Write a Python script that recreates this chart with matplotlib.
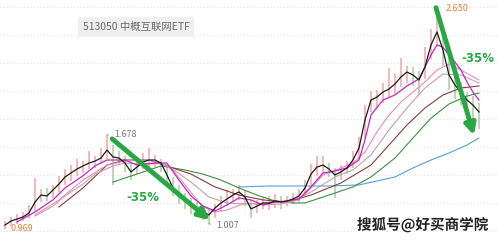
import matplotlib.pyplot as plt
import matplotlib.patheffects as pe
from matplotlib.patches import FancyArrowPatch
import numpy as np

plt.rcParams['font.family'] = ['Noto Sans CJK SC', 'DejaVu Sans']

# daily bars
closes = [0.999, 1.029, 1.044, 1.059, 1.090, 1.172, 1.225, 1.218, 1.263, 1.308,
          1.361, 1.391, 1.421, 1.444, 1.466, 1.481, 1.504, 1.564, 1.512, 1.504,
          1.466, 1.399, 1.436, 1.474, 1.489, 1.489, 1.466, 1.376, 1.278, 1.225,
          1.188, 1.142, 1.120, 1.097, 1.075, 1.127, 1.165, 1.195, 1.225, 1.248,
          1.210, 1.120, 1.142, 1.165, 1.165, 1.180, 1.172, 1.180, 1.195, 1.218,
          1.278, 1.383, 1.436, 1.451, 1.421, 1.376, 1.399, 1.429, 1.489, 1.579,
          1.790, 1.941, 1.964, 2.001, 2.024, 2.062, 2.115, 2.152, 2.130, 2.092,
          2.190, 2.356, 2.454, 2.318, 2.130, 2.054, 2.001, 1.941, 1.903, 1.851]
highs = [1.03, 1.06, 1.08, 1.10, 1.15, 1.35, 1.27, 1.28, 1.30, 1.37,
         1.42, 1.45, 1.50, 1.48, 1.56, 1.52, 1.58, 1.678, 1.60, 1.56,
         1.52, 1.47, 1.48, 1.54, 1.58, 1.53, 1.50, 1.44, 1.36, 1.30,
         1.24, 1.20, 1.17, 1.15, 1.12, 1.16, 1.22, 1.26, 1.27, 1.30,
         1.26, 1.19, 1.19, 1.21, 1.22, 1.23, 1.22, 1.22, 1.24, 1.27,
         1.34, 1.46, 1.52, 1.52, 1.47, 1.43, 1.45, 1.48, 1.56, 1.66,
         1.90, 2.01, 2.02, 2.07, 2.18, 2.14, 2.26, 2.20, 2.19, 2.16,
         2.34, 2.48, 2.650, 2.46, 2.30, 2.15, 2.08, 2.00, 1.97, 1.92]
lows = [0.969, 0.99, 1.01, 1.03, 1.05, 1.10, 1.17, 1.18, 1.20, 1.25,
        1.30, 1.33, 1.37, 1.39, 1.42, 1.43, 1.46, 1.50, 1.30, 1.45,
        1.40, 1.34, 1.38, 1.42, 1.44, 1.44, 1.40, 1.30, 1.22, 1.16,
        1.12, 1.08, 1.06, 1.04, 1.007, 1.05, 1.10, 1.14, 1.17, 1.19,
        1.14, 1.05, 1.09, 1.12, 1.11, 1.13, 1.12, 1.14, 1.16, 1.17,
        1.22, 1.30, 1.37, 1.39, 1.36, 1.20, 1.34, 1.38, 1.43, 1.50,
        1.65, 1.85, 1.88, 1.92, 1.96, 1.99, 2.04, 2.07, 2.05, 1.98,
        2.10, 2.25, 2.35, 2.20, 2.02, 1.95, 1.90, 1.80, 1.76, 1.72]

# moving average lines, read as (bar index, price)
ma10_x = [2, 5, 8, 10, 13, 15, 17, 20, 22, 25, 27, 29, 31, 33, 35, 37, 39, 41, 43, 45,
          47, 49, 51, 53, 55, 57, 59, 60, 61, 63, 65, 67, 69, 71, 72, 73, 74, 75, 76, 77, 78, 79]
ma10_y = [1.022, 1.097, 1.188, 1.278, 1.37, 1.444, 1.489, 1.489, 1.451, 1.466, 1.466, 1.338,
          1.218, 1.142, 1.105, 1.150, 1.203, 1.188, 1.150, 1.172, 1.180, 1.195, 1.286, 1.391,
          1.406, 1.429, 1.489, 1.640, 1.828, 1.941, 1.979, 2.047, 2.10, 2.280, 2.356, 2.34,
          2.280, 2.227, 2.167, 2.077, 2.001, 1.941]
ma20_x = [5, 8, 10, 13, 15, 18, 20, 23, 26, 28, 30, 33, 35, 37, 40, 43, 46, 49, 51, 53,
          56, 58, 60, 62, 64, 66, 68, 70, 72, 74, 76, 79]
ma20_y = [1.067, 1.142, 1.218, 1.308, 1.383, 1.444, 1.466, 1.459, 1.466, 1.414, 1.301, 1.135,
          1.097, 1.112, 1.165, 1.150, 1.157, 1.188, 1.278, 1.376, 1.429, 1.466, 1.549, 1.700,
          1.828, 1.926, 2.001, 2.077, 2.167, 2.212, 2.167, 2.092]
ma30_x = [5, 9, 13, 17, 20, 24, 27, 31, 34, 37, 40, 44, 48, 51, 55, 58, 61, 64, 67, 70, 73, 76, 79]
ma30_y = [1.075, 1.188, 1.338, 1.451, 1.481, 1.489, 1.451, 1.323, 1.210, 1.165, 1.157, 1.165,
          1.180, 1.248, 1.361, 1.414, 1.527, 1.715, 1.881, 2.032, 2.137, 2.130, 2.069]
ma60_x = [9, 13, 17, 20, 24, 27, 31, 35, 39, 43, 47, 51, 56, 61, 64, 67, 70, 73, 76, 79]
ma60_y = [1.135, 1.278, 1.451, 1.489, 1.489, 1.444, 1.383, 1.286, 1.225, 1.188, 1.172, 1.225,
          1.316, 1.451, 1.602, 1.753, 1.881, 1.979, 2.032, 2.047]
ma120_x = [18, 22, 26, 30, 33, 36, 39, 42, 45, 48, 50, 54, 58, 61, 65, 68, 71, 74, 77, 79]
ma120_y = [1.323, 1.383, 1.444, 1.414, 1.383, 1.338, 1.278, 1.225, 1.180, 1.165, 1.165, 1.225,
           1.286, 1.361, 1.504, 1.655, 1.805, 1.911, 1.971, 1.994]
ma250_x = [39, 44, 49, 54, 59, 62, 65, 68, 71, 74, 77, 79]
ma250_y = [1.286, 1.293, 1.293, 1.293, 1.301, 1.331, 1.361, 1.429, 1.489, 1.542, 1.602, 1.655]

grid_levels = [0.954, 1.165, 1.376, 1.587, 1.798, 2.009, 2.220, 2.431, 2.642]

fig = plt.figure(figsize=(4.98, 2.40), dpi=100)
ax = fig.add_axes([0, 0, 1, 1])
ax.set_xlim(-0.83, 82.17)
ax.set_ylim(0.886, 2.695)
ax.axis('off')

for g in grid_levels:
    ax.axhline(g, color='#e2e2e2', lw=0.8, ls=(0, (1, 2)), zorder=0)

idx = np.arange(len(closes))
prev = [closes[0]] + closes[:-1]
cols = ['#f0a6a6' if c >= p else '#a9cba2' for c, p in zip(closes, prev)]
ax.vlines(idx, lows, highs, colors=cols, lw=1.1, zorder=1)

ax.plot(ma250_x, ma250_y, color='#5a9fd4', lw=0.8, zorder=2)
ax.plot(ma120_x, ma120_y, color='#3f8f3f', lw=0.8, zorder=2)
ax.plot(ma60_x, ma60_y, color='#8a3b3b', lw=0.8, zorder=2)
ax.plot(ma30_x, ma30_y, color='#c0a4a4', lw=0.8, zorder=2)
ax.plot(ma20_x, ma20_y, color='#e58cc0', lw=0.8, zorder=2)
ax.plot(ma10_x, ma10_y, color='#c625c6', lw=0.9, zorder=3)
ax.plot(idx, closes, color='#1a1a1a', lw=0.9, zorder=4)

# extreme labels
lab = dict(fontsize=6.5, va='center', ha='left')
ax.annotate('1.678', xy=(17, 1.678), xytext=(5, 0), textcoords='offset points',
            color='#777777', arrowprops=dict(arrowstyle='-', color='#777777', lw=0.6), **lab)
ax.annotate('1.007', xy=(34, 1.007), xytext=(5, -1), textcoords='offset points',
            color='#777777', arrowprops=dict(arrowstyle='-', color='#777777', lw=0.6), **lab)
ax.annotate('0.969', xy=(0, 0.969), xytext=(4, 0), textcoords='offset points',
            color='#e8823a', arrowprops=dict(arrowstyle='-', color='#e8823a', lw=0.6), **lab)
ax.annotate('2.650', xy=(72, 2.650), xytext=(6, -1.5), textcoords='offset points',
            color='#e8823a', arrowprops=dict(arrowstyle='-', color='#e8823a', lw=0.6), **lab)

# big green arrows
green = '#27a844'
for a, b in [((17.5, 1.662), (34.5, 1.022)), ((71.7, 2.657), (78.3, 1.655))]:
    ax.add_patch(FancyArrowPatch(a, b, arrowstyle='-|>', mutation_scale=16,
                                 color=green, lw=3.5, zorder=6))
ax.text(0.287, 0.179, '-35%', transform=ax.transAxes, color=green, fontsize=8.5,
        fontweight='bold', ha='center', va='center', family='DejaVu Sans')
ax.text(0.960, 0.758, '-35%', transform=ax.transAxes, color=green, fontsize=8.5,
        fontweight='bold', ha='center', va='center', family='DejaVu Sans')

ax.text(0.273, 0.888, '513050 中概互联网ETF', transform=ax.transAxes, color='#6a6a6a',
        fontsize=7.5, ha='center', va='center',
        bbox=dict(facecolor='#f0f0f0', edgecolor='none', pad=3.5))

wm = ax.text(0.849, 0.062, '搜狐号@好买商学院', transform=ax.transAxes, color='#222222',
             fontsize=10.5, fontweight='bold', ha='center', va='center', zorder=8)
wm.set_path_effects([pe.withStroke(linewidth=2.5, foreground='white')])

fig.savefig('out.png', dpi=100)
